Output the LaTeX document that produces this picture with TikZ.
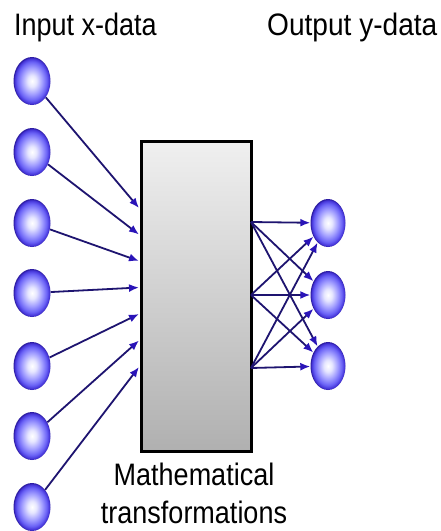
\documentclass[tikz,border=0pt]{standalone}
\usepackage{fontspec}
\setmainfont{Liberation Sans}
\usetikzlibrary{shapes.geometric,arrows.meta}
\definecolor{arrowblue}{HTML}{1E1470}
\definecolor{headblue}{HTML}{2A14B8}
\definecolor{orbA}{HTML}{E6E6FF}
\definecolor{orbB}{HTML}{A09CFF}
\definecolor{orbC}{HTML}{6A62F6}
\definecolor{orbD}{HTML}{4434D8}
\definecolor{orbE}{HTML}{2A1A9C}
\pgfdeclareradialshading{orb}{\pgfpoint{0bp}{0bp}}{color(0bp)=(white); color(6bp)=(orbA); color(14bp)=(orbB); color(20bp)=(orbC); color(23.5bp)=(orbD); color(25bp)=(orbE); color(50bp)=(orbE)}
\tikzset{
  orbnode/.style={ellipse, shading=orb, minimum width=37pt, minimum height=48pt, inner sep=0pt},
  conn/.style={draw=arrowblue, line width=1.8pt, -{Latex[length=10pt,width=8pt,color=headblue]}},
  lbl/.style={inner sep=0pt, font=\fontsize{27}{30}\selectfont}
}
\begin{document}
\begin{tikzpicture}[x=1pt,y=1pt]
\useasboundingbox (0,0) rectangle (441,-531);
\fill[white] (0,0) rectangle (441,-531);
% labels
\node[lbl, anchor=base west] (tin) at (14,-35) {\scalebox{1}[1.15]{Input x-data}};
\node[lbl, anchor=base west] (tout) at (267,-35) {\scalebox{1.04}[1.15]{Output y-data}};
\node[lbl, anchor=base] (tm1) at (194,-485) {\scalebox{1}[1.15]{Mathematical}};
\node[lbl, anchor=base] (tm2) at (194,-523) {\scalebox{1}[1.15]{transformations}};
% box
\node[draw=black, line width=2.5pt, top color=gray!12, bottom color=gray!62, minimum width=110pt, minimum height=310pt, inner sep=0pt, anchor=north west] (box) at (140,-140) {};
% input orbs
\foreach \i/\y in {1/81,2/152,3/223,4/293,5/366,6/436,7/507}{
  \node[orbnode] (in\i) at (32,-\y) {};
}
% output orbs
\foreach \i/\y in {1/223,2/295,3/366}{
  \node[orbnode, minimum width=35pt] (out\i) at (328,-\y) {};
}
% entry points on box
\foreach \i/\t in {1/208,2/234.5,3/261,4/287.5,5/314,6/340.5,7/367}{
  \coordinate (e\i) at (139,-\t);
}
% exit points on box
\foreach \i/\t in {1/222,2/295,3/368}{
  \coordinate (x\i) at (251,-\t);
}
\foreach \i in {1,...,7}{
  \draw[conn] (in\i) -- (e\i);
}
\foreach \a in {1,2,3}{
  \foreach \b in {1,2,3}{
    \draw[conn] (x\a) -- (out\b);
  }
}
\end{tikzpicture}
\end{document}
